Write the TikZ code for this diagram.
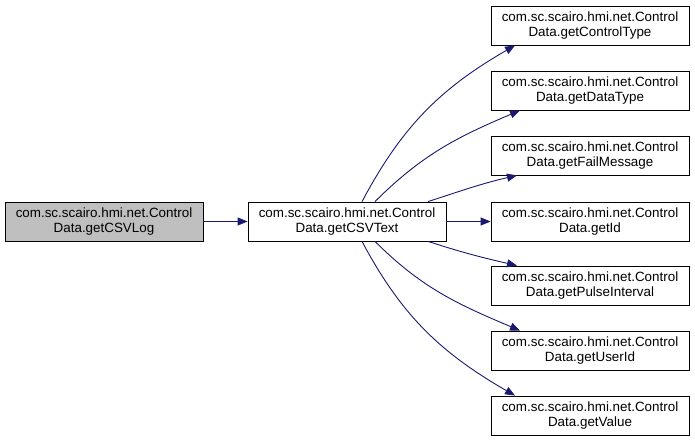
\documentclass[tikz,border=0pt]{standalone}
\usepackage{fontspec}
\setmainfont{Liberation Sans}
\usetikzlibrary{arrows.meta}
\definecolor{edgeblue}{HTML}{191970}
\definecolor{boxgray}{HTML}{BFBFBF}
\tikzset{
    fn/.style={draw=black, line width=0.8pt, minimum width=198pt, minimum height=39pt,
        inner sep=1pt, align=center, font=\fontsize{13.4}{15.5}\selectfont},
    caller/.style={fn, fill=boxgray},
    call/.style={draw=edgeblue, line width=0.9pt, -{Triangle[length=10pt,width=8pt]}}
}
\begin{document}
\begin{tikzpicture}[x=1pt, y=1pt]
    \useasboundingbox (0,0) rectangle (695,444);
    % caller and current function
    \node[caller] (log) at (104,222.5) {com.sc.scairo.hmi.net.Control\\Data.getCSVLog};
    \node[fn] (text) at (347,222.5) {com.sc.scairo.hmi.net.Control\\Data.getCSVText};
    % callees
    \node[fn] (ctype) at (590,418.5) {com.sc.scairo.hmi.net.Control\\Data.getControlType};
    \node[fn] (dtype) at (590,353.5) {com.sc.scairo.hmi.net.Control\\Data.getDataType};
    \node[fn] (fail)  at (590,288.5) {com.sc.scairo.hmi.net.Control\\Data.getFailMessage};
    \node[fn] (id)    at (590,222.5) {com.sc.scairo.hmi.net.Control\\Data.getId};
    \node[fn] (pulse) at (590,158.5) {com.sc.scairo.hmi.net.Control\\Data.getPulseInterval};
    \node[fn] (user)  at (590,93.5)  {com.sc.scairo.hmi.net.Control\\Data.getUserId};
    \node[fn] (value) at (590,28.5)  {com.sc.scairo.hmi.net.Control\\Data.getValue};
    % edges
    \draw[call] (log) -- (text);
    \draw[call] ([xshift=15pt]text.north) to[out=62, in=-150] ([xshift=-75pt]ctype.south);
    \draw[call] ([xshift=28pt]text.north) to[out=45, in=-157] ([xshift=-70pt]dtype.south);
    \draw[call] ([xshift=81pt]text.north) to[out=18, in=-167] ([xshift=-73pt]fail.south);
    \draw[call] (text) -- (id);
    \draw[call] ([xshift=81pt]text.south) to[out=-18, in=167] ([xshift=-73pt]pulse.north);
    \draw[call] ([xshift=28pt]text.south) to[out=-45, in=157] ([xshift=-70pt]user.north);
    \draw[call] ([xshift=15pt]text.south) to[out=-62, in=150] ([xshift=-75pt]value.north);
\end{tikzpicture}
\end{document}
